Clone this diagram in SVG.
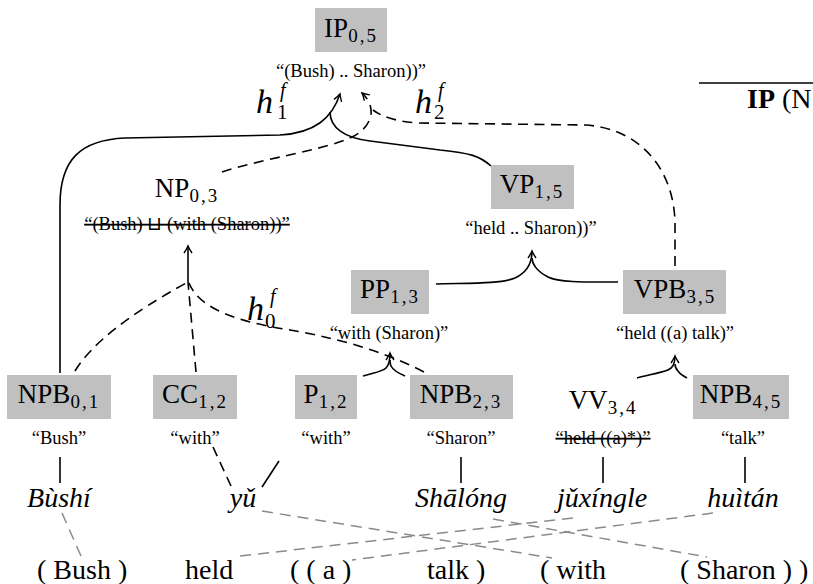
<svg xmlns="http://www.w3.org/2000/svg" width="813" height="584" viewBox="0 0 813 584">
<defs>
<style>
text{font-family:'Liberation Serif',serif;fill:#000}
.box{fill:#c0c0c0}
.lbl{font-size:27px;text-anchor:middle}
.sub{font-size:19px;letter-spacing:2px}
.q{font-size:18.5px;text-anchor:middle}
.strike{text-decoration:line-through}
.py{font-size:28px;font-style:italic;text-anchor:middle}
.w{font-size:28px}
.hh{font-size:34px;font-style:italic}
.hs{font-size:20px;font-style:italic}
.hn{font-size:21px}
.s{stroke:#000;stroke-width:1.6;fill:none}
.d{stroke:#000;stroke-width:1.6;fill:none;stroke-dasharray:10 6.5}
.g{stroke:#8a8a8a;stroke-width:1.5;fill:none;stroke-dasharray:11 7}
</style>
<marker id="ah" viewBox="-10 -6 12 12" refX="0" refY="0" markerWidth="12" markerHeight="12" markerUnits="userSpaceOnUse" orient="auto">
<path d="M -7 -4 Q -2.5 -1 0 0 Q -2.5 1 -7 4" fill="none" stroke="#000" stroke-width="1.4"/>
</marker>
</defs>
<rect width="813" height="584" fill="#fff"/>

<g id="connectors">
<path class="s" d="M 60 373 L 60 205 C 60 160 80 140 125 138 L 280 135 C 315 133 332 118 340 94" marker-end="url(#ah)"/>
<path class="s" d="M 491 166 C 480 156 470 153 440 150 L 370 141 C 345 138 330 128 330 112"/>
<path class="d" d="M 222 172 C 265 158 325 150 352 137 C 372 127 378 108 362 93" marker-end="url(#ah)"/>
<path class="d" d="M 675 266 L 675 225 C 675 170 640 128 585 125 L 420 123 C 398 122 382 117 373 110"/>
<path class="d" d="M 75 371 Q 100 330 188 282"/>
<path class="d" d="M 196 372 L 188 282"/>
<path class="d" d="M 424 372 C 380 349 330 337 290 330 C 240 322 200 310 189 283"/>
<path class="s" d="M 188 282 L 188 246" marker-end="url(#ah)"/>
<path class="s" d="M 436 284 C 470 283 500 284 515 278 C 528 272 532 262 532 251" marker-end="url(#ah)"/>
<path class="s" d="M 618 282 C 590 282 560 283 548 277 C 536 271 532 263 532 258"/>
<path class="s" d="M 363 376 C 372 373 382 372 386 368 C 389 365 390 360 390 353" marker-end="url(#ah)"/>
<path class="s" d="M 405 376 C 398 373 393 370 391 366 C 390 364 390 362 390 360"/>
<path class="s" d="M 637 378 C 648 375 660 373 668 370 C 673 368 675 364 675 356" marker-end="url(#ah)"/>
<path class="s" d="M 687 378 C 683 376 680 374 678 371 C 676 369 675 367 675 364"/>
<path class="s" d="M 60 457 L 60 483"/>
<path class="d" d="M 213 447 L 231 486"/>
<path class="s" d="M 279 461 L 262 487"/>
<path class="s" d="M 461 457 L 461 483"/>
<path class="s" d="M 603 457 L 603 483"/>
<path class="s" d="M 745 457 L 745 483"/>
<path class="g" d="M 62 513 L 81 556"/>
<path class="g" d="M 262 511 L 552 558"/>
<path class="g" d="M 493 519 L 707 557"/>
<path class="g" d="M 573 518 L 240 556"/>
<path class="g" d="M 713 513 L 352 560"/>
</g>

<g id="IP05">
<rect class="box" x="315" y="8" width="72" height="44"/>
<text class="lbl" x="351" y="37">IP<tspan class="sub" dy="5">0,5</tspan></text>
<text class="q" x="351" y="77">“(Bush) .. Sharon))”</text>
</g>
<g id="NP03">
<text class="lbl" x="187" y="197">NP<tspan class="sub" dy="5">0,3</tspan></text>
<text class="q strike" x="187" y="230">“(Bush) ⊔ (with (Sharon))”</text>
</g>
<g id="VP15">
<rect class="box" x="491" y="165" width="83" height="44"/>
<text class="lbl" x="532" y="193">VP<tspan class="sub" dy="5">1,5</tspan></text>
<text class="q" x="531" y="234">“held .. Sharon))”</text>
</g>
<g id="PP13">
<rect class="box" x="351" y="270" width="78" height="44"/>
<text class="lbl" x="390" y="298">PP<tspan class="sub" dy="5">1,3</tspan></text>
<text class="q" x="389" y="339">“with (Sharon)”</text>
</g>
<g id="VPB35">
<rect class="box" x="623" y="270" width="103" height="44"/>
<text class="lbl" x="675" y="298">VPB<tspan class="sub" dy="5">3,5</tspan></text>
<text class="q" x="675" y="339">“held ((a) talk)”</text>
</g>
<g id="NPB01">
<rect class="box" x="7" y="375" width="104" height="44"/>
<text class="lbl" x="59" y="403">NPB<tspan class="sub" dy="5">0,1</tspan></text>
<text class="q" x="59" y="444">“Bush”</text>
</g>
<g id="CC12">
<rect class="box" x="153" y="375" width="84" height="44"/>
<text class="lbl" x="195" y="403">CC<tspan class="sub" dy="5">1,2</tspan></text>
<text class="q" x="195" y="444">“with”</text>
</g>
<g id="P12">
<rect class="box" x="295" y="375" width="62" height="44"/>
<text class="lbl" x="326" y="403">P<tspan class="sub" dy="5">1,2</tspan></text>
<text class="q" x="326" y="444">“with”</text>
</g>
<g id="NPB23">
<rect class="box" x="410" y="375" width="103" height="44"/>
<text class="lbl" x="461" y="403">NPB<tspan class="sub" dy="5">2,3</tspan></text>
<text class="q" x="461" y="444">“Sharon”</text>
</g>
<g id="VV34">
<text class="lbl" x="603" y="409">VV<tspan class="sub" dy="5">3,4</tspan></text>
<text class="q strike" x="603" y="444">“held ((a)*)”</text>
</g>
<g id="NPB45">
<rect class="box" x="693" y="375" width="96" height="44"/>
<text class="lbl" x="741" y="403">NPB<tspan class="sub" dy="5">4,5</tspan></text>
<text class="q" x="743" y="444">“talk”</text>
</g>

<g id="hlabels">
<text class="hh" x="256" y="113">h</text><text class="hs" x="280" y="97">f</text><text class="hn" x="277" y="119">1</text>
<text class="hh" x="415" y="113">h</text><text class="hs" x="438" y="97">f</text><text class="hn" x="434" y="119">2</text>
<text class="hh" x="247" y="320">h</text><text class="hs" x="270" y="303">f</text><text class="hn" x="265" y="328">0</text>
</g>

<g id="pinyin">
<text class="py" x="59" y="507">Bùshí</text>
<text class="py" x="243" y="507">yǔ</text>
<text class="py" x="461" y="507">Shālóng</text>
<text class="py" x="602" y="507">jǔxíngle</text>
<text class="py" x="743" y="507">huìtán</text>
</g>

<g id="english">
<text class="w" x="37" y="579">( Bush )</text>
<text class="w" x="185" y="579">held</text>
<text class="w" x="290" y="579">( ( a )</text>
<text class="w" x="427" y="579">talk )</text>
<text class="w" x="540" y="579">( with</text>
<text class="w" x="680" y="579">( Sharon ) )</text>
</g>

<g id="table-edge">
<path d="M 699 83 L 813 83" stroke="#000" stroke-width="1.5"/>
<text x="747" y="108" font-size="28"><tspan font-weight="bold">IP</tspan> (N</text>
</g>
</svg>
